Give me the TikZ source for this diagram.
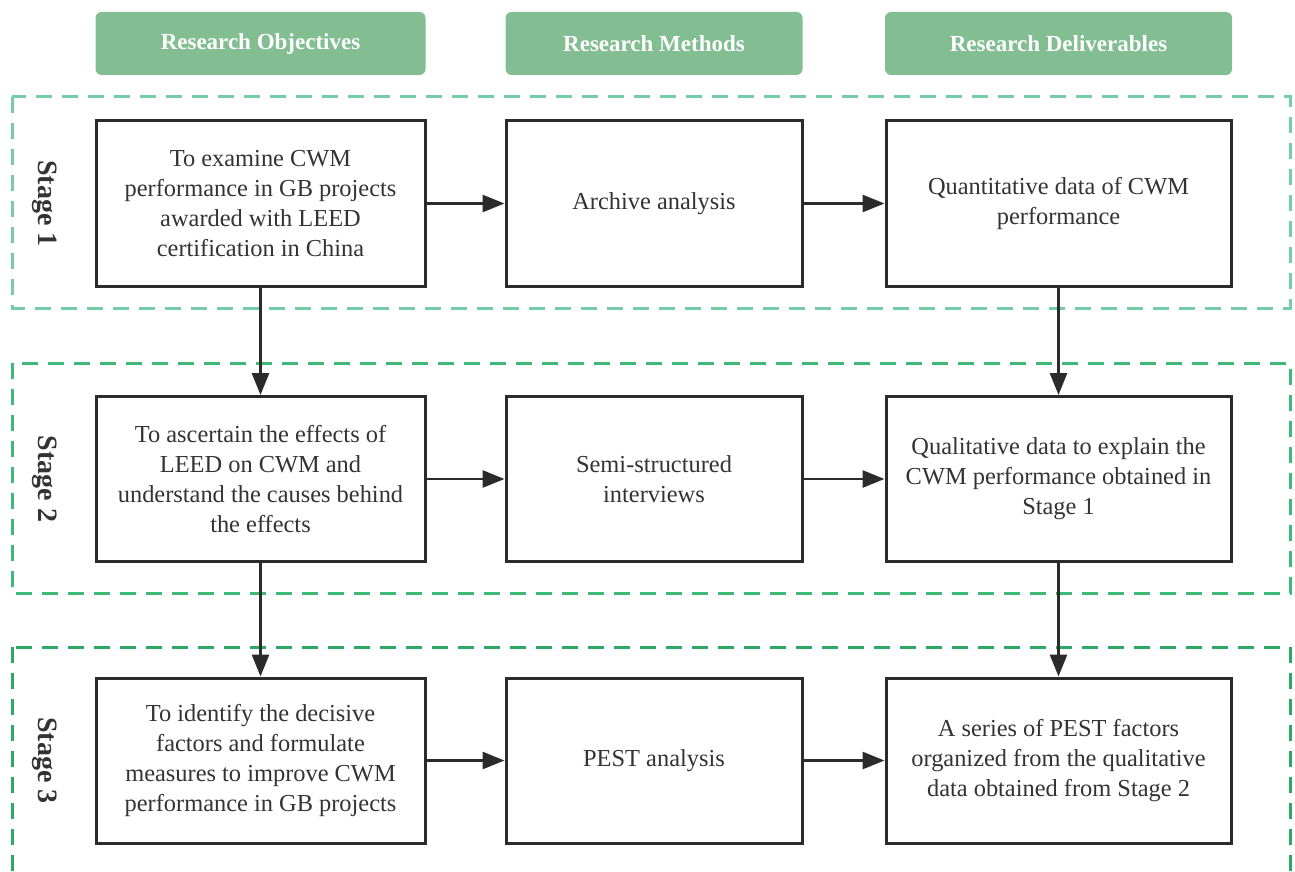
\documentclass[tikz,border=0pt]{standalone}
\usepackage{fontspec}
\setmainfont{Liberation Serif}
\usetikzlibrary{arrows.meta}
\definecolor{headgreen}{HTML}{82BE92}
\definecolor{stageone}{HTML}{74CCA8}
\definecolor{stagetwo}{HTML}{3DBA7A}
\definecolor{stagethree}{HTML}{2EA865}
\definecolor{boxgray}{HTML}{2B2B2B}
\definecolor{textgray}{HTML}{333333}
\tikzset{
	headbox/.style={fill=headgreen,rounded corners=3pt,minimum height=31.5pt,text=white,font=\bfseries\fontsize{11.5}{14}\selectfont},
	stageframe/.style={line width=1.5pt,dash pattern=on 8pt off 5pt},
	stagelabel/.style={rotate=-90,text=textgray,font=\bfseries\fontsize{14}{16}\selectfont},
	taskbox/.style={draw=boxgray,line width=1.5pt,minimum height=82.5pt,align=center,text=textgray,font=\fontsize{12.2}{15}\selectfont},
	flow/.style={draw=boxgray,line width=1.4pt,-{Triangle[length=11pt,width=8.5pt]}}
}
\begin{document}
\begin{tikzpicture}[x=0.5pt,y=-0.5pt]
			\useasboundingbox (0,0) rectangle (1295,872);
			\clip (0,0) rectangle (1295,872);
			\def\ca{260.5} \def\cb{654} \def\cc{1058.5}
			\def\ra{203.5} \def\rb{479} \def\rc{760.5}
			% headers
			\node [headbox,minimum width=165pt] (hobj) at (\ca,43.5) {Research Objectives};
			\node [headbox,minimum width=148.5pt] (hmet) at (\cb,43.5) {Research Methods};
			\node [headbox,minimum width=173.5pt] (hdel) at (\cc,43.5) {Research Deliverables};
			% stage frames
			\draw [stageframe,draw=stageone] (12,97) rectangle (1290,308);
			\draw [stageframe,draw=stagetwo] (12,363) rectangle (1290,593);
			\draw [stageframe,draw=stagethree] (12,647) rectangle (1290,900);
			\node [stagelabel] (sone) at (45,\ra) {Stage 1};
			\node [stagelabel] (stwo) at (45,\rb) {Stage 2};
			\node [stagelabel] (sthree) at (45,\rc) {Stage 3};
			% stage 1
			\node [taskbox,minimum width=164.5pt] (obja) at (\ca,\ra) {To examine CWM\\performance in GB projects\\awarded with LEED\\certification in China};
			\node [taskbox,minimum width=148pt] (meta) at (\cb,\ra) {Archive analysis};
			\node [taskbox,minimum width=172.5pt] (dela) at (\cc,\ra) {Quantitative data of CWM\\performance};
			% stage 2
			\node [taskbox,minimum width=164.5pt] (objb) at (\ca,\rb) {To ascertain the effects of\\LEED on CWM and\\understand the causes behind\\the effects};
			\node [taskbox,minimum width=148pt] (metb) at (\cb,\rb) {Semi-structured\\interviews};
			\node [taskbox,minimum width=172.5pt] (delb) at (\cc,\rb) {Qualitative data to explain the\\CWM performance obtained in\\Stage 1};
			% stage 3
			\node [taskbox,minimum width=164.5pt] (objc) at (\ca,\rc) {To identify the decisive\\factors and formulate\\measures to improve CWM\\performance in GB projects};
			\node [taskbox,minimum width=148pt] (metc) at (\cb,\rc) {PEST analysis};
			\node [taskbox,minimum width=172.5pt] (delc) at (\cc,\rc) {A series of PEST factors\\organized from the qualitative\\data obtained from Stage 2};
			% connectors
			\draw [flow] (obja)--(meta);
			\draw [flow] (meta)--(dela);
			\draw [flow] (objb)--(metb);
			\draw [flow] (metb)--(delb);
			\draw [flow] (objc)--(metc);
			\draw [flow] (metc)--(delc);
			\draw [flow] (obja)--(objb);
			\draw [flow] (objb)--(objc);
			\draw [flow] (dela)--(delb);
			\draw [flow] (delb)--(delc);
		\end{tikzpicture}
\end{document}
